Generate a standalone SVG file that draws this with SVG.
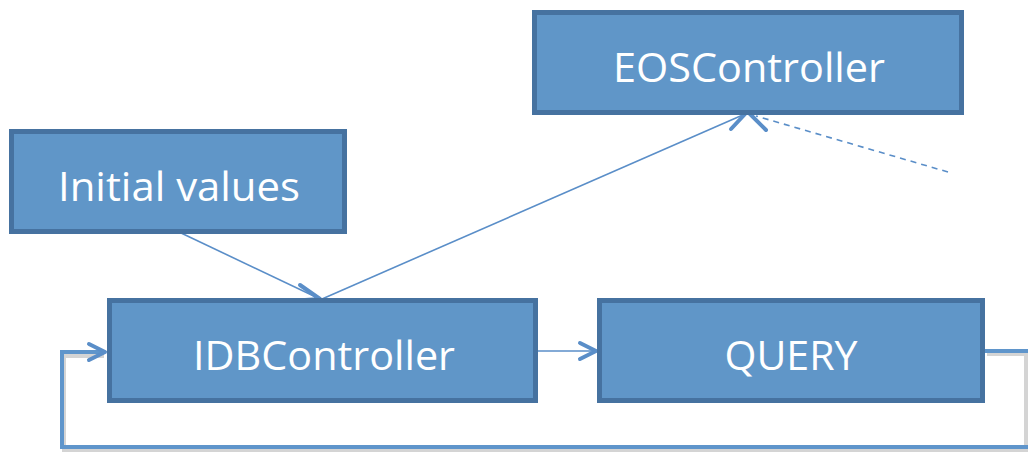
<svg xmlns="http://www.w3.org/2000/svg" width="1028" height="454" viewBox="0 0 1028 454">
<style>
.box{fill:#6096c8;stroke:#4672a0;stroke-width:5;}
.lbl{fill:#fff;font-family:"Open Sans","Liberation Sans",sans-serif;font-size:41px;text-anchor:middle;}
.thin{fill:none;stroke:#5a8ec8;stroke-width:1.6;}
.thick{fill:none;stroke:#5f95cb;stroke-width:4;}
.shadow{fill:none;stroke:#b8b8b8;stroke-width:4;opacity:0.6;}
.head{fill:none;stroke:#5a8ec8;stroke-width:4;stroke-linecap:round;stroke-linejoin:round;}
</style>
<rect width="1028" height="454" fill="#fff"/>
<g id="connectors">
  <path class="shadow" d="M987 354 H1031 M1026 352 V450 H64 V356 H104"/>
  <path class="thick" d="M985 351 H1030 V447 H62 V352 H104"/>
  <path class="head" d="M89 344 L105 352 L89 360"/>
  <line class="thin" x1="538" y1="351" x2="595" y2="351"/>
  <path class="head" d="M580 343 L596 351 L580 359"/>
  <line class="thin" x1="179" y1="232" x2="320" y2="299"/>
  <path class="head" d="M300 285 L320 299 L305 300"/>
  <line class="thin" x1="322" y1="299" x2="745" y2="114"/>
  <path class="head" d="M731 129 L746 113 L724 113"/>
  <line class="thin" x1="948" y1="172" x2="756" y2="116" stroke-dasharray="6,5"/>
  <path class="head" d="M766 130 L749 113 L772 113"/>
</g>
<g id="eos"><rect class="box" x="534.5" y="12.5" width="427" height="100"/><text class="lbl" x="749" y="82" textLength="272" lengthAdjust="spacingAndGlyphs">EOSController</text></g>
<g id="initial"><rect class="box" x="11.5" y="131.5" width="333" height="100"/><text class="lbl" x="179" y="201" textLength="242" lengthAdjust="spacingAndGlyphs">Initial values</text></g>
<g id="idb"><rect class="box" x="109.5" y="300.5" width="426" height="100"/><text class="lbl" x="324" y="370" textLength="262" lengthAdjust="spacingAndGlyphs">IDBController</text></g>
<g id="query"><rect class="box" x="599.5" y="300.5" width="383" height="100"/><text class="lbl" x="791" y="370" textLength="133" lengthAdjust="spacingAndGlyphs">QUERY</text></g>
</svg>
